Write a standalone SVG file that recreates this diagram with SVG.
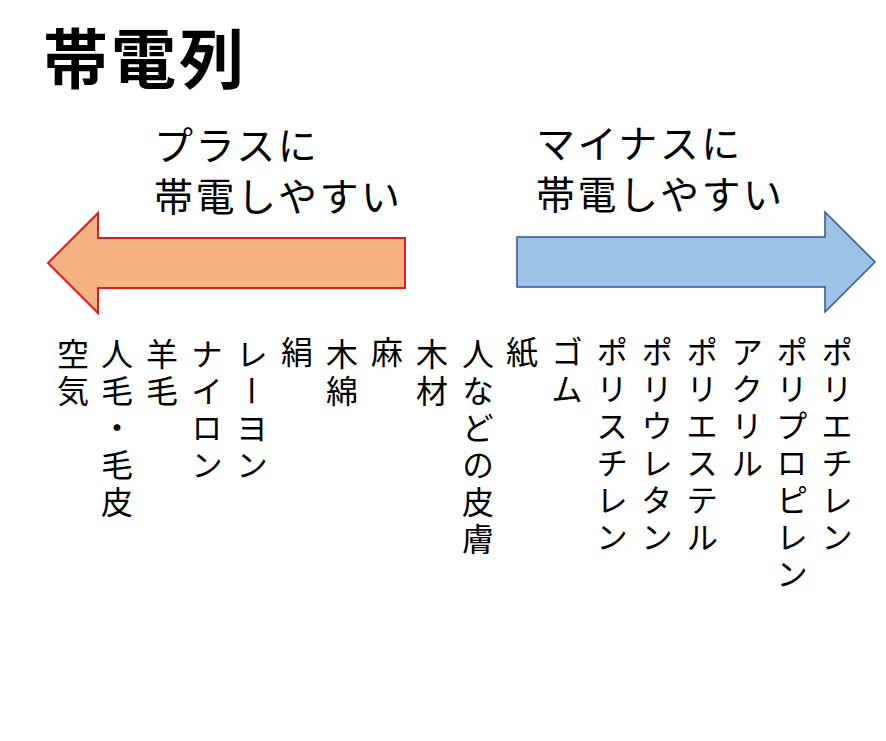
<svg xmlns="http://www.w3.org/2000/svg" width="886" height="741" viewBox="0 0 886 741">
<style>
.t{font-family:"Noto Sans CJK JP","Noto Sans",sans-serif;fill:#000}
.v{font-family:"Noto Sans CJK JP",sans-serif;font-size:32px;writing-mode:vertical-rl;letter-spacing:5px;fill:#000}
.lab{font-size:39px;letter-spacing:2.5px}
</style>
<rect width="886" height="741" fill="#fff"/>
<g id="title"><text class="t" x="43" y="83" font-size="65" font-weight="bold" letter-spacing="3">帯電列</text></g>
<g id="plus-label"><text class="t lab" x="154" y="160">プラスに</text><text class="t lab" x="154" y="211">帯電しやすい</text></g>
<g id="minus-label"><text class="t lab" x="536" y="158">マイナスに</text><text class="t lab" x="536" y="209">帯電しやすい</text></g>
<g id="arrow-left"><polygon points="48,263 98,213 98,238 405,238 405,288 98,288 98,313" fill="#F4B183" stroke="#E31A1A" stroke-width="2"/></g>
<g id="arrow-right"><polygon points="517,237 825,237 825,212 875,262 825,312 825,287 517,287" fill="#9DC3E6" stroke="#2F5597" stroke-width="1.5"/></g>
<g id="series">
<g id="n1"><text class="v" x="73" y="338">空気</text></g>
<g id="n2"><text class="v" x="117" y="338">人毛・毛皮</text></g>
<g id="n3"><text class="v" x="162" y="338">羊毛</text></g>
<g id="n4"><text class="v" x="207" y="338">ナイロン</text></g>
<g id="n5"><text class="v" x="252" y="338">レーヨン</text></g>
<g id="n6"><text class="v" x="297" y="336">絹</text></g>
<g id="n7"><text class="v" x="342" y="338">木綿</text></g>
<g id="n8"><text class="v" x="387" y="336">麻</text></g>
<g id="n9"><text class="v" x="432" y="338">木材</text></g>
<g id="n10"><text class="v" x="478" y="338">人などの皮膚</text></g>
<g id="n11"><text class="v" x="522" y="336">紙</text></g>
<g id="n12"><text class="v" x="567" y="336">ゴム</text></g>
<g id="n13"><text class="v" x="612" y="336">ポリスチレン</text></g>
<g id="n14"><text class="v" x="657" y="336">ポリウレタン</text></g>
<g id="n15"><text class="v" x="702" y="336">ポリエステル</text></g>
<g id="n16"><text class="v" x="747" y="336">アクリル</text></g>
<g id="n17"><text class="v" x="792" y="336">ポリプロピレン</text></g>
<g id="n18"><text class="v" x="837" y="336">ポリエチレン</text></g>
</g>
</svg>
